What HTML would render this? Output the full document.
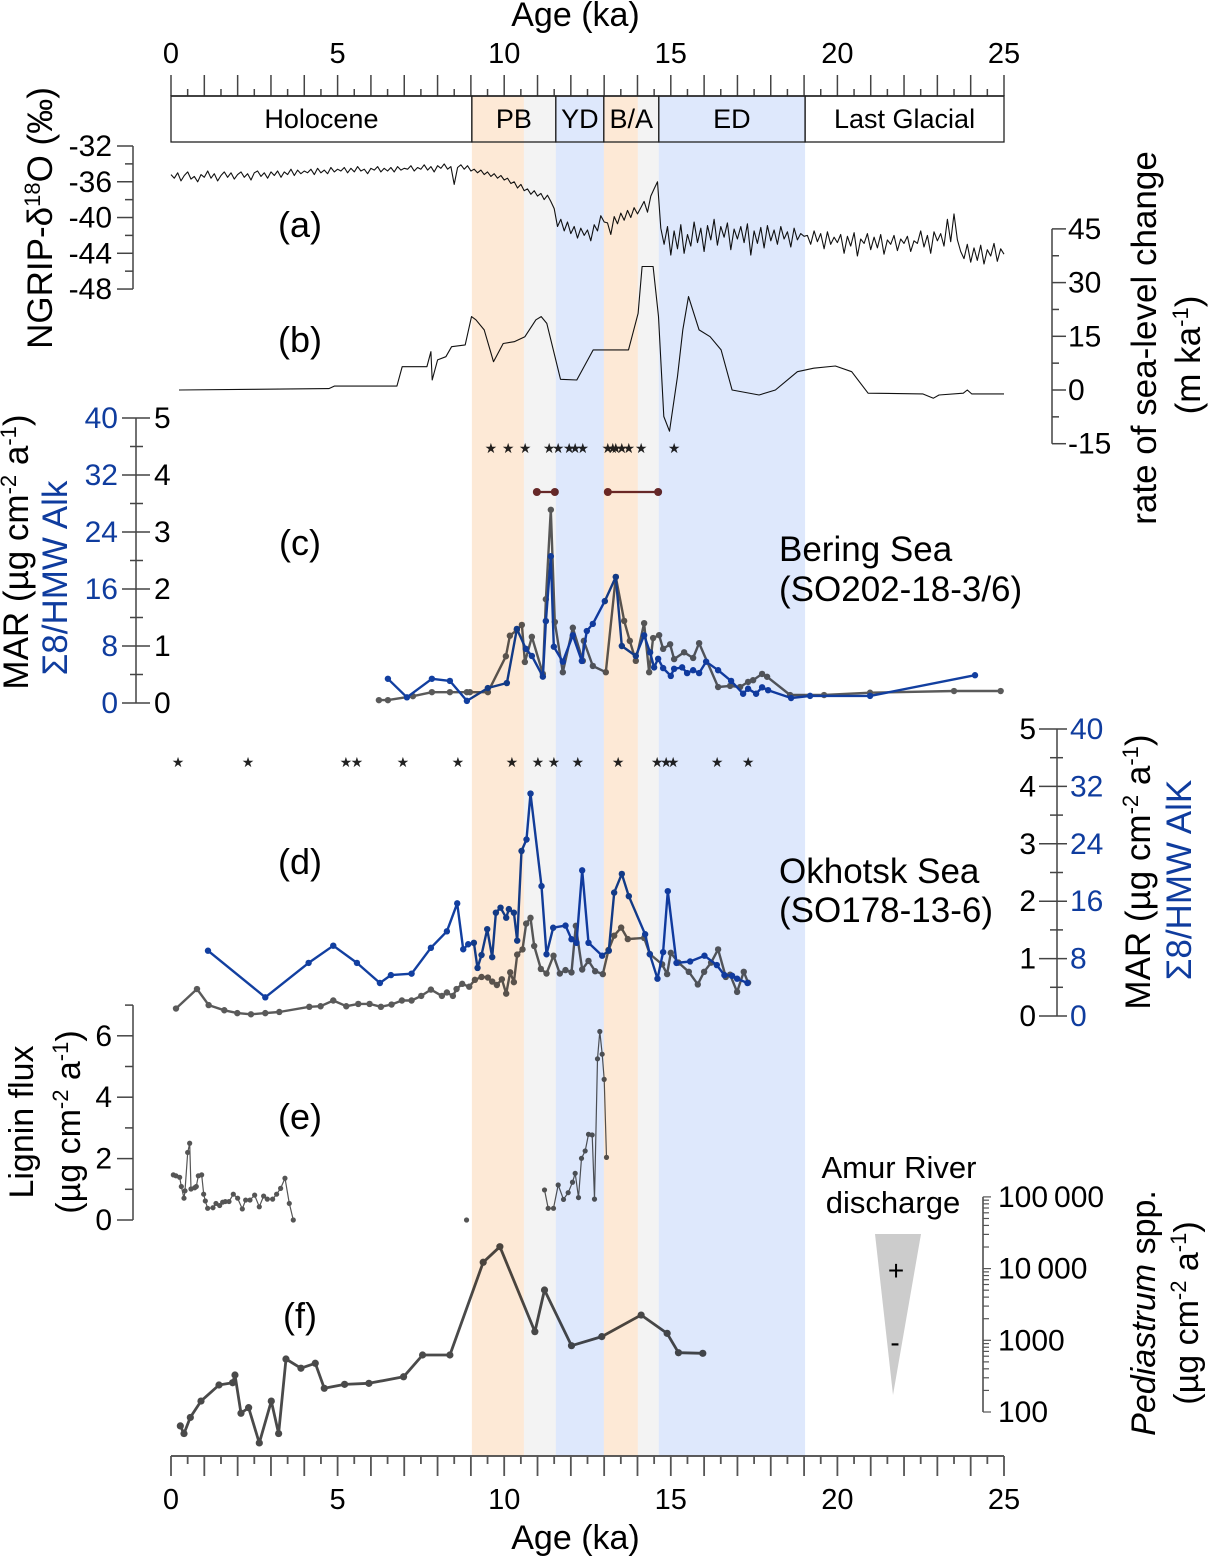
<!DOCTYPE html>
<html><head><meta charset="utf-8"><style>
html,body{margin:0;padding:0;background:#fff}
svg{display:block;font-family:"Liberation Sans",Arial,sans-serif}
</style></head><body>
<svg id="fig" width="1210" height="1557" viewBox="0 0 1210 1557" xmlns="http://www.w3.org/2000/svg">
<g id="lines"></g>
<g id="bands"></g>
<g id="axes"></g>
</svg>
<script>
// ---- data ----
const bandStarts=[9.03,10.59,11.55,12.99,14.01,14.64];
const bandEnds=[10.59,11.55,12.99,14.01,14.64,19.03];
const bandColors=['#fde9d6','#f3f3f3','#dee8fc','#fde9d6','#f3f3f3','#dee8fc'];
const periodNames=['Holocene','PB','YD','B/A','ED','Last Glacial'];
const periodStarts=[0,9.03,11.55,12.99,14.64,19.03];
const periodEnds=[9.03,11.55,12.99,14.64,19.03,25];
const ngripStart=0, ngripStep=0.1;
const ngripValues=[-35.2,-35.6,-35.0,-35.9,-35.3,-34.9,-35.7,-35.4,-36.0,-35.2,-35.5,
-34.8,-35.6,-35.1,-35.9,-35.3,-34.9,-35.5,-35.0,-35.7,-35.2,
-34.9,-35.5,-35.1,-35.8,-35.0,-34.8,-35.4,-35.0,-35.6,-34.9,
-35.3,-34.8,-35.5,-34.9,-35.2,-34.6,-35.3,-34.7,-35.1,-34.8,
-35.0,-34.6,-35.2,-34.5,-35.0,-34.7,-35.1,-34.4,-34.9,-34.6,
-34.8,-34.4,-35.0,-34.5,-34.9,-34.3,-34.8,-34.6,-35.1,-34.5,
-34.7,-34.3,-34.9,-34.5,-34.8,-34.4,-34.9,-34.3,-34.7,-34.5,
-34.6,-34.2,-34.8,-34.4,-34.6,-34.1,-34.7,-34.3,-34.9,-34.2,
-34.5,-34.0,-34.6,-34.3,-36.3,-34.4,-34.1,-34.6,-34.2,-34.8,
-34.6,-35.0,-34.7,-35.2,-34.9,-35.4,-35.1,-35.6,-35.3,-35.8,
-35.6,-36.2,-36.0,-36.7,-36.3,-37.0,-36.8,-37.4,-37.0,-37.6,
-37.3,-38.0,-37.5,-38.2,-39.0,-41.0,-40.2,-41.5,-40.5,-41.8,
-41.0,-42.3,-41.2,-42.0,-41.4,-42.6,-40.8,-41.5,-39.8,-40.5,
-40.6,-41.9,-39.9,-40.7,-39.5,-40.3,-39.2,-40.0,-38.9,-39.6,
-38.9,-38.2,-39.4,-37.6,-36.8,-36.0,-41.2,-43.0,-41.0,-44.2,
-41.5,-43.5,-40.8,-44.0,-41.9,-43.2,-40.5,-42.8,-41.2,-43.8,
-40.9,-42.5,-40.2,-43.1,-41.0,-42.2,-40.6,-43.6,-41.3,-42.4,
-41.0,-42.8,-40.7,-44.2,-41.5,-42.9,-41.1,-43.4,-40.9,-42.6,
-41.4,-43.0,-41.0,-42.4,-41.6,-43.3,-41.2,-42.5,-41.8,-42.1,
-42.0,-43.0,-41.5,-42.7,-41.8,-43.5,-41.6,-43.0,-42.2,-42.8,
-41.9,-44.0,-42.1,-43.2,-41.7,-44.3,-42.4,-42.9,-41.8,-43.6,
-42.2,-43.4,-41.9,-44.1,-42.5,-43.0,-42.0,-43.7,-42.4,-42.9,
-42.1,-43.8,-42.6,-42.9,-41.5,-43.3,-42.0,-44.0,-41.6,-42.6,
-41.8,-43.2,-40.2,-42.7,-39.6,-42.5,-43.8,-44.6,-43.0,-45.0,
-43.4,-44.8,-43.1,-45.2,-43.6,-44.3,-42.9,-44.9,-43.5,-44.1];
const slAges=[0.24,2.45,4.74,4.9,6.78,6.94,7.68,7.8,7.84,8.0,8.25,8.42,8.83,9.02,9.15,9.4,9.68,9.97,10.3,10.62,10.95,11.11,11.28,11.69,12.18,12.67,13.73,14.02,14.14,14.47,14.63,14.79,14.96,15.2,15.36,15.53,15.85,16.18,16.51,16.84,17.65,18.14,18.8,19.29,19.94,20.43,20.92,22.56,22.88,23.05,23.78,23.9,24.03,25];
const slRates=[0,0.2,0.4,1.1,1.1,6.5,6.5,10.7,2.8,8.4,9.3,12.1,12.6,20.5,19.6,16.8,7.9,13.0,13.5,14.9,19.6,20.5,18.6,3.0,2.8,11.2,11.2,21.4,34.5,34.5,20.5,-7.4,-11.5,3.8,16.8,26.1,16.8,14.9,11.2,0,-1.4,0,5.1,6.1,6.7,5.1,-0.9,-1.1,-2.3,-1.4,-0.9,0,-1.1,-1.1];
const beringMarAges=[6.24,6.51,7.26,7.83,8.37,8.88,8.97,9.51,10.05,10.17,10.38,10.53,10.62,10.83,11.16,11.25,11.4,11.52,11.76,12.06,12.36,12.39,12.66,13.05,13.35,13.6,13.77,13.95,14.2,14.35,14.47,14.65,14.77,14.98,15.1,15.4,15.67,15.85,16.42,16.78,17.08,17.32,17.47,17.74,17.89,18.58,19.6,20.98,23.5,24.9];
const beringMar=[0.05,0.05,0.12,0.19,0.19,0.19,0.19,0.19,0.82,1.18,1.28,1.37,0.72,1.16,0.51,1.82,3.39,1.42,0.54,1.32,0.74,1.09,0.65,0.54,2.21,1.44,1.09,0.74,1.4,0.54,1.14,1.19,0.95,1.03,0.77,0.89,0.79,1.05,0.28,0.3,0.28,0.37,0.4,0.51,0.46,0.14,0.14,0.18,0.21,0.21];
const beringSigAges=[6.51,7.08,7.83,8.37,8.88,9.51,10.08,10.38,10.65,10.83,11.16,11.25,11.4,11.49,11.76,12.06,12.33,12.48,12.66,13.02,13.35,13.53,13.95,14.2,14.38,14.5,14.62,14.77,15.0,15.1,15.34,15.49,15.67,15.85,16.06,16.42,16.81,17.17,17.32,17.56,17.74,17.92,18.61,19.18,20.98,24.13];
const beringSig=[3.4,0.8,3.4,3.1,0.3,2.1,2.8,10.4,7.6,6.6,3.7,11.5,20.6,7.9,5.8,9.5,5.9,10.1,11.1,14.3,17.7,8.0,6.6,9.5,7.1,5.0,6.2,4.9,3.8,4.8,5.0,4.2,4.6,4.2,5.8,4.6,3.1,1.3,2.0,1.3,2.2,1.8,0.7,1.0,1.0,3.9];
const beringDateAges=[9.6,10.12,10.63,11.35,11.62,11.95,12.13,12.36,13.11,13.26,13.35,13.53,13.74,14.11,15.1];
const beringBarStarts=[10.98,13.11];
const beringBarEnds=[11.52,14.62];
const okhMarAges=[0.15,0.78,1.13,1.6,1.99,2.4,2.83,3.25,4.15,4.49,4.87,5.26,5.62,5.96,6.3,6.62,6.93,7.22,7.51,7.8,8.13,8.28,8.46,8.57,8.74,8.95,9.12,9.32,9.51,9.64,9.78,9.93,10.06,10.18,10.29,10.39,10.55,10.66,10.79,10.9,11.1,11.27,11.48,11.67,11.84,12.02,12.15,12.34,12.53,12.73,12.96,13.13,13.3,13.51,13.71,14.2,14.37,14.74,14.89,15.0,15.23,15.54,15.81,16.0,16.21,16.42,16.65,16.78,16.99,17.19,17.32];
const okhMar=[0.13,0.47,0.19,0.1,0.05,0.03,0.05,0.07,0.16,0.17,0.27,0.17,0.21,0.21,0.16,0.2,0.27,0.27,0.35,0.46,0.35,0.41,0.35,0.47,0.56,0.51,0.63,0.68,0.67,0.6,0.54,0.64,0.39,0.76,0.59,1.07,1.16,1.61,1.71,1.22,0.82,0.74,1.05,0.74,0.8,0.76,1.57,0.81,0.96,0.78,0.73,1.15,1.4,1.54,1.34,1.36,1.08,0.9,0.73,1.1,0.93,0.77,0.55,0.77,0.93,1.16,0.68,0.72,0.42,0.77,0.58];
const okhSigAges=[1.11,2.83,4.13,4.87,5.58,6.27,6.6,7.22,7.8,8.28,8.59,8.77,8.92,9.09,9.2,9.32,9.49,9.64,9.75,9.89,10.06,10.14,10.29,10.39,10.52,10.67,10.79,11.12,11.27,11.47,11.84,12.02,12.17,12.34,12.53,12.94,13.14,13.3,13.53,13.74,14.23,14.37,14.6,14.77,14.91,15.17,15.58,16.01,16.38,16.61,16.84,16.99,17.3];
const okhSig=[9.1,2.6,7.4,9.8,7.4,4.6,5.7,5.9,9.5,11.8,15.7,9.3,10.0,10.2,6.7,8.5,12.1,8.2,14.4,15.1,13.7,14.9,14.4,10.5,23.0,24.6,31.0,18.1,8.6,12.3,12.6,10.7,10.2,20.3,10.2,8.4,9.1,17.2,19.8,16.7,11.4,8.6,5.2,8.9,17.4,7.4,7.6,8.4,7.1,5.7,5.6,5.2,4.6];
const okhDateAges=[0.21,2.31,5.25,5.58,6.96,8.61,10.23,11.01,11.49,12.21,13.42,14.59,14.86,15.07,16.39,17.32];
const ligAgesA=[0.07,0.15,0.26,0.31,0.39,0.42,0.5,0.56,0.6,0.71,0.76,0.82,0.92,0.98,1.03,1.1,1.26,1.35,1.46,1.55,1.63,1.74,1.87,2.0,2.14,2.24,2.37,2.51,2.65,2.78,2.89,3.05,3.17,3.29,3.42,3.55,3.67];
const ligA=[1.47,1.44,1.39,1.09,0.71,0.95,2.2,2.5,1.01,1.05,1.09,1.44,1.47,0.84,0.62,0.38,0.4,0.54,0.47,0.58,0.6,0.6,0.84,0.71,0.36,0.65,0.65,0.81,0.43,0.78,0.68,0.68,0.84,1.03,1.36,0.54,0.0];
const ligAgesB=[11.21,11.32,11.48,11.62,11.78,11.92,12.05,12.13,12.23,12.32,12.43,12.53,12.64,12.71,12.8,12.87,12.94,13.0,13.07];
const ligB=[0.98,0.38,0.38,1.14,0.67,0.89,1.23,1.52,0.73,2.01,2.25,2.79,2.77,0.68,5.25,6.14,5.4,4.58,2.04];
const ligSingleAge=[8.87];
const ligSingle=[0.0];
const pedAges=[0.28,0.39,0.58,0.9,1.44,1.85,1.92,2.1,2.33,2.65,3.01,3.23,3.45,3.9,4.33,4.6,5.21,5.94,6.98,7.55,8.37,9.37,9.87,10.92,11.21,12.02,12.93,14.11,14.89,15.23,15.96];
const pedVals=[64,50,84,142,238,256,328,96,115,37,142,50,548,408,478,214,243,251,310,624,624,12250,20200,1320,5030,841,1125,2250,1250,671,658];
const ageTicks=[0,5,10,15,20,25];
const ngripTicks=[-32,-36,-40,-44,-48];
const slTicks=[45,30,15,0,-15];
const marTicks=[0,1,2,3,4,5];
const sigTicks=[0,8,16,24,32,40];
const ligTicks=[0,2,4,6];
const pedTicks=[100,1000,10000,100000];
const pedTickLabels=['100','1000','10\u2009000','100\u2009000'];

// ---- scales ----
const X=a=>171+a*33.32;
const Ya=v=>146+(-32-v)*8.94;
const Yb=v=>390-v*3.58;
const Yc=v=>703-v*57;
const YcS=v=>703-v/8*57;
const Yd=v=>1016-v*57.4;
const YdS=v=>1016-v/8*57.4;
const Ye=v=>1220-v*30.7;
const Yf=v=>1412-71.7*Math.log10(v/100);

const NS='http://www.w3.org/2000/svg';
function mk(tag,attrs,parent){const e=document.createElementNS(NS,tag);for(const k in attrs)e.setAttribute(k,attrs[k]);parent.appendChild(e);return e;}
const L=document.getElementById('lines'),B=document.getElementById('bands'),A=document.getElementById('axes');

function series(ages,vals,ys,color,w,r,name){
  const g=mk('g',{},L);
  
  
  const pts=ages.map((a,i)=>X(a).toFixed(1)+','+ys(vals[i]).toFixed(1)).join(' ');
  const pl=mk('polyline',{points:pts,fill:'none',stroke:color,'stroke-width':w,'stroke-linejoin':'round'},g);
  
  
  if(r>0)ages.forEach((a,i)=>{const c=mk('circle',{cx:X(a),cy:ys(vals[i]),r:r,fill:color},g);
    
    });
}
const ngAges=ngripValues.map((v,i)=>ngripStart+i*ngripStep);
series(ngAges,ngripValues,Ya,'#111',1.1,0,'ngrip-d18o-series');
series(slAges,slRates,Yb,'#111',1.1,0,'sea-level-rate-series');
series(beringMarAges,beringMar,Yc,'#5a5a5a',2.4,3.2,'bering-mar-series');
series(beringSigAges,beringSig,YcS,'#123fa0',2.4,3.2,'bering-sigma8-series');
beringDateAges.forEach(a=>{const t=mk('text',{x:X(a),y:453,'font-size':14,'text-anchor':'middle',fill:'#222'},L);t.textContent='★';
  
  });
beringBarStarts.forEach((s,i)=>{const g=mk('g',{},L);
  
  
  mk('line',{x1:X(s),x2:X(beringBarEnds[i]),y1:492,y2:492,stroke:'#6b2a2a','stroke-width':2.2},g);
  mk('circle',{cx:X(s),cy:492,r:4,fill:'#6b2a2a'},g);mk('circle',{cx:X(beringBarEnds[i]),cy:492,r:4,fill:'#6b2a2a'},g);});
series(okhMarAges,okhMar,Yd,'#5a5a5a',2.4,3.2,'okhotsk-mar-series');
series(okhSigAges,okhSig,YdS,'#123fa0',2.4,3.2,'okhotsk-sigma8-series');
okhDateAges.forEach(a=>{const t=mk('text',{x:X(a),y:767,'font-size':14,'text-anchor':'middle',fill:'#222'},L);t.textContent='★';
  
  });
series(ligAgesA,ligA,Ye,'#555',1.2,2.6,'lignin-flux-holocene-series');
series(ligAgesB,ligB,Ye,'#555',1.2,2.6,'lignin-flux-deglacial-series');
series(ligSingleAge,ligSingle,Ye,'#555',1.2,2.6,'lignin-flux-single-point');
series(pedAges,pedVals,Yf,'#4a4a4a',2.8,3.6,'pediastrum-series');

bandStarts.forEach((s,i)=>{const r=mk('rect',{x:X(s),y:96,width:X(bandEnds[i])-X(s),height:1360,fill:bandColors[i],style:'mix-blend-mode:multiply'},B);
  
  });

// ---- axes ----
const TF=30;
function txt(x,y,s,opt,name){const t=mk('text',Object.assign({x:x,y:y,'font-size':TF,fill:'#000'},opt||{}),A);t.textContent=s;
  
  return t;}
function ln(x1,y1,x2,y2,c,w){return mk('line',{x1,y1,x2,y2,stroke:c||'#444','stroke-width':w||1.5},A);}
const SUP='<tspan dy="-12" font-size="22">';
const UNIT='(µg cm'+SUP+'-2</tspan><tspan dy="12"> a</tspan>'+SUP+'-1</tspan><tspan dy="12">)</tspan>';
ln(X(0),96,X(25),96,'#000',1.5);
for(let a=0;a<=25;a+=0.5){const maj=Math.abs(a-Math.round(a))<1e-6;ln(X(a),96,X(a),maj?75:89,'#444',1.5);}
ageTicks.forEach(a=>txt(X(a),63,String(a),{'text-anchor':'middle','font-size':29},'top-age-tick-label'));
txt(X(12.5)-12,26,'Age (ka)',{'text-anchor':'middle','font-size':34},'top-x-axis-title');
periodStarts.forEach((s,i)=>{const r=mk('rect',{x:X(s),y:96,width:X(periodEnds[i])-X(s),height:46,fill:'none',stroke:'#222','stroke-width':1.3},A);
  
  
  txt((X(s)+X(periodEnds[i]))/2,128,periodNames[i],{'text-anchor':'middle','font-size':27},'period-label');});
ln(X(0),1456,X(25),1456,'#444',1.8);
for(let a=0;a<=25;a+=0.5){const maj=Math.abs(a-Math.round(a))<1e-6;ln(X(a),1456,X(a),maj?1476:1464,'#555',1.8);}
ageTicks.forEach(a=>txt(X(a),1509,String(a),{'text-anchor':'middle','font-size':29},'bottom-age-tick-label'));
txt(X(12.5)-12,1549,'Age (ka)',{'text-anchor':'middle','font-size':34},'bottom-x-axis-title');
// (a)
ln(133,Ya(-32),133,Ya(-48),'#444',1.5);
for(let v=-32;v>=-48;v-=2){const maj=v%4===0;ln(133,Ya(v),maj?117:125,Ya(v),'#444',1.5);}
ngripTicks.forEach(v=>txt(112,Ya(v)+10,String(v),{'text-anchor':'end'},'ngrip-tick-label'));
{const t=txt(0,0,'',{'text-anchor':'middle','font-size':35,transform:'translate(52,218) rotate(-90)'},'ngrip-y-axis-title');
 t.innerHTML='NGRIP-δ'+SUP+'18</tspan><tspan dy="12">O (‰)</tspan>';}
// (b)
ln(1052,Yb(45),1052,Yb(-15),'#444',1.5);
for(let v=45;v>=-15;v-=7.5){const maj=v%15===0;ln(1052,Yb(v),maj?1066:1059,Yb(v),'#444',1.5);}
slTicks.forEach(v=>txt(1068,Yb(v)+10,String(v),{},'sea-level-tick-label'));
txt(0,0,'rate of sea-level change',{'text-anchor':'middle','font-size':35,transform:'translate(1156,338) rotate(-90)'},'sea-level-y-axis-title');
{const t=txt(0,0,'',{'text-anchor':'middle','font-size':35,transform:'translate(1200,355) rotate(-90)'},'sea-level-y-axis-unit');
 t.innerHTML='(m ka'+SUP+'-1</tspan><tspan dy="12">)</tspan>';}
// (c)
ln(136,Yc(0),136,Yc(5),'#444',1.5);
for(let v=0;v<=5;v+=0.5){const maj=Math.abs(v-Math.round(v))<1e-6;if(maj)ln(122,Yc(v),150,Yc(v),'#444',1.5);else ln(130,Yc(v),143,Yc(v),'#444',1.5);}
marTicks.forEach(v=>txt(154,Yc(v)+10,String(v),{},'bering-mar-tick-label'));
sigTicks.forEach(v=>txt(118,YcS(v)+10,String(v),{'text-anchor':'end',fill:'#0f3c9e'},'bering-sigma8-tick-label'));
{const t=txt(0,0,'',{'text-anchor':'middle','font-size':35,transform:'translate(28,552) rotate(-90)'},'bering-mar-y-axis-title');
 t.innerHTML='MAR '+UNIT;}
txt(0,0,'Σ8/HMW Alk',{'text-anchor':'middle','font-size':35,fill:'#0f3c9e',transform:'translate(67,578) rotate(-90)'},'bering-sigma8-y-axis-title');
// (d)
ln(1057,Yd(0),1057,Yd(5),'#444',1.5);
for(let v=0;v<=5;v+=0.5){const maj=Math.abs(v-Math.round(v))<1e-6;if(maj)ln(1039,Yd(v),1067,Yd(v),'#444',1.5);else ln(1050,Yd(v),1063,Yd(v),'#444',1.5);}
marTicks.forEach(v=>txt(1036,Yd(v)+10,String(v),{'text-anchor':'end'},'okhotsk-mar-tick-label'));
sigTicks.forEach(v=>txt(1070,YdS(v)+10,String(v),{fill:'#0f3c9e'},'okhotsk-sigma8-tick-label'));
{const t=txt(0,0,'',{'text-anchor':'middle','font-size':35,transform:'translate(1150,872) rotate(-90)'},'okhotsk-mar-y-axis-title');
 t.innerHTML='MAR '+UNIT;}
txt(0,0,'Σ8/HMW AlK',{'text-anchor':'middle','font-size':35,fill:'#0f3c9e',transform:'translate(1191,880) rotate(-90)'},'okhotsk-sigma8-y-axis-title');
// (e)
ln(133,Ye(0),133,Ye(7),'#444',1.5);
for(let v=0;v<=7;v++){ln(133,Ye(v),v%2===0?117:125,Ye(v),'#444',1.5);}
ligTicks.forEach(v=>txt(112,Ye(v)+10,String(v),{'text-anchor':'end'},'lignin-tick-label'));
txt(0,0,'Lignin flux',{'text-anchor':'middle','font-size':34,transform:'translate(33,1122) rotate(-90)'},'lignin-y-axis-title');
{const t=txt(0,0,'',{'text-anchor':'middle','font-size':34,transform:'translate(80,1122) rotate(-90)'},'lignin-y-axis-unit');
 t.innerHTML=UNIT;}
// (f)
ln(983,Yf(100),983,Yf(100000),'#444',1.5);
for(let d=100;d<100000;d*=10){for(let k=1;k<10;k++){const v=d*k;ln(983,Yf(v),983+(k===1?8:6),Yf(v),'#555',1.2);}}
ln(983,Yf(100000),991,Yf(100000),'#555',1.2);
pedTicks.forEach((v,i)=>txt(998,Yf(v)+10,pedTickLabels[i],{'font-size':30},'pediastrum-tick-label'));
{const t=txt(0,0,'',{'text-anchor':'middle','font-size':34,transform:'translate(1155,1313) rotate(-90)'},'pediastrum-y-axis-title');
 t.innerHTML='<tspan font-style="italic">Pediastrum</tspan> spp.';}
{const t=txt(0,0,'',{'text-anchor':'middle','font-size':34,transform:'translate(1198,1313) rotate(-90)'},'pediastrum-y-axis-unit');
 t.innerHTML=UNIT;}
txt(899,1178,'Amur River',{'text-anchor':'middle','font-size':31},'amur-river-label');
txt(893,1213,'discharge',{'text-anchor':'middle','font-size':31},'discharge-label');
{const p=mk('polygon',{points:'875,1234 921,1234 893,1395',fill:'#cccccc'},A);
 
 }
txt(896,1280,'+',{'text-anchor':'middle','font-size':28},'discharge-plus');
txt(895,1352,'-',{'text-anchor':'middle','font-size':28},'discharge-minus');
[['(a)',237],['(b)',352],['(c)',555],['(d)',874],['(e)',1129],['(f)',1328]].forEach(p=>txt(300,p[1],p[0],{'text-anchor':'middle','font-size':36},'panel-label'));
txt(779,561,'Bering Sea',{'font-size':35},'bering-sea-label');
txt(779,601,'(SO202-18-3/6)',{'font-size':35},'bering-core-label');
txt(779,883,'Okhotsk Sea',{'font-size':35},'okhotsk-sea-label');
txt(779,922,'(SO178-13-6)',{'font-size':35},'okhotsk-core-label');
</script>
</body></html>
